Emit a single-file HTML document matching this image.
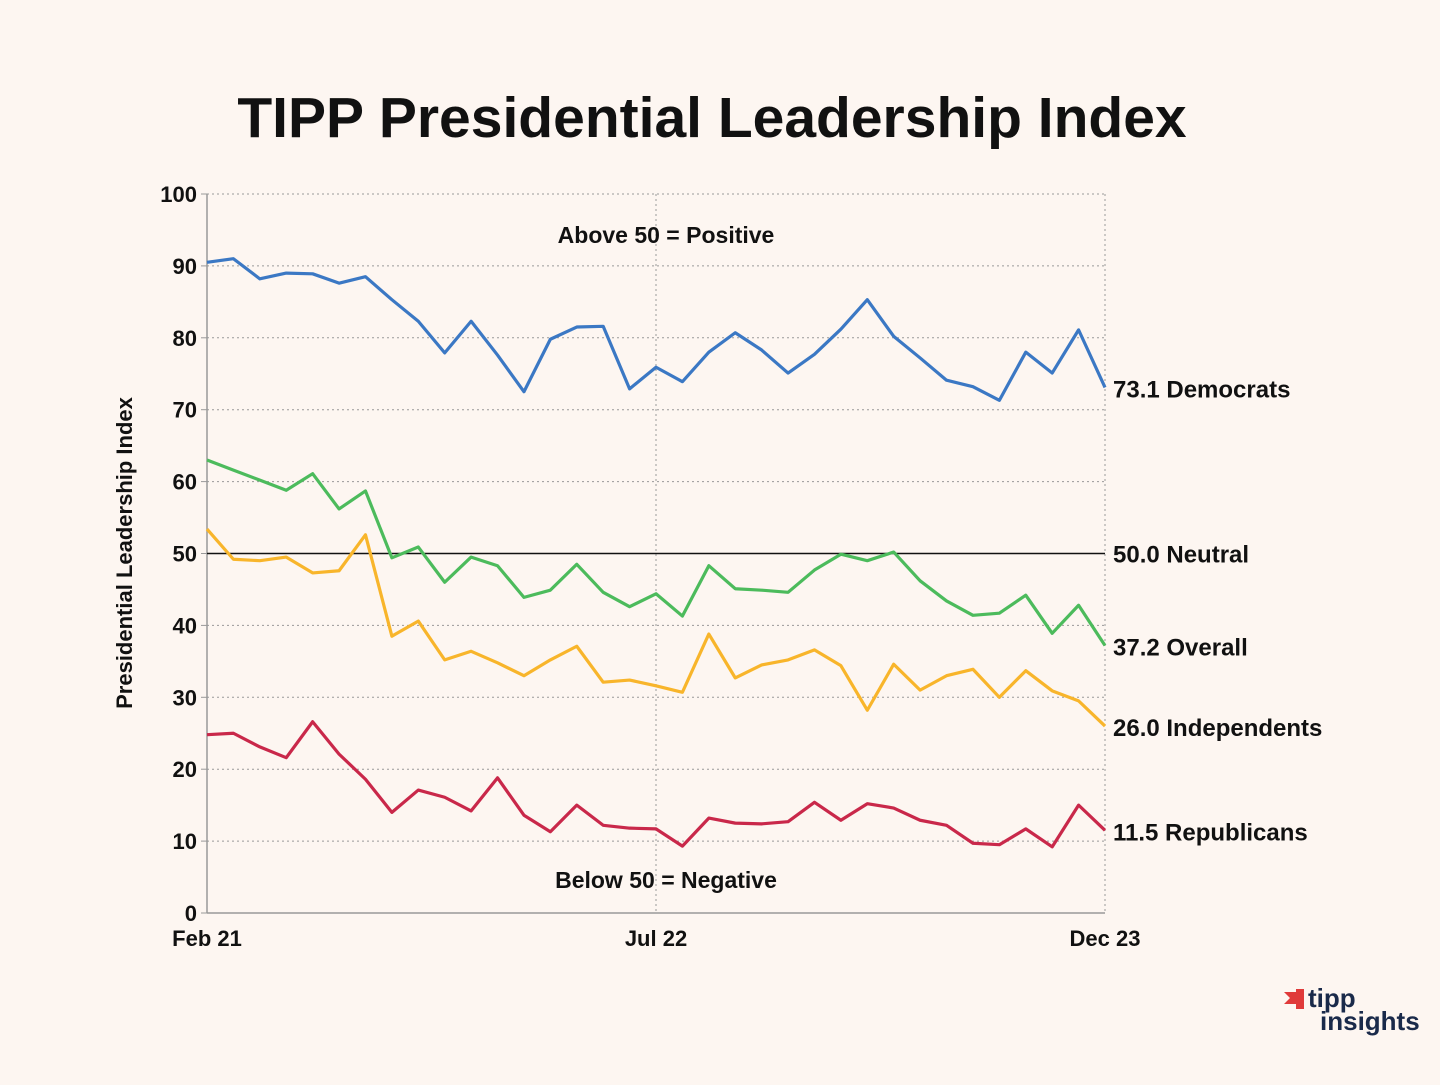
<!DOCTYPE html>
<html><head><meta charset="utf-8">
<style>
html,body{margin:0;padding:0;background:#fdf6f1;}
body{width:1440px;height:1080px;overflow:hidden;font-family:"Liberation Sans","DejaVu Sans",sans-serif;}
text{font-family:"Liberation Sans","DejaVu Sans",sans-serif;}
</style></head>
<body>
<svg id="chart" width="1440" height="1080">
<text x="712" y="137" text-anchor="middle" font-size="57" font-weight="bold" fill="#111">TIPP Presidential Leadership Index</text>
<g id="grid"></g>
<g id="axes"></g>
<g id="series"></g>
<g id="labels"></g>
<text x="666" y="243" text-anchor="middle" font-size="23" font-weight="bold" fill="#111">Above 50 = Positive</text>
<text x="666" y="888" text-anchor="middle" font-size="23" font-weight="bold" fill="#111">Below 50 = Negative</text>
<text transform="translate(132,553) rotate(-90)" text-anchor="middle" font-size="22" font-weight="bold" fill="#111">Presidential Leadership Index</text>
<g>
<polygon points="1284,992 1296,992 1300,998 1296,1004 1284,1004 1290,998" fill="#e03a3a"/>
<rect x="1296" y="989" width="8" height="20" fill="#e03a3a"/>
<text x="1308" y="1007" font-size="26" font-weight="bold" fill="#1a2a4a">tipp</text>
<text x="1320" y="1030" font-size="26" font-weight="bold" fill="#1a2a4a">insights</text>
</g>
</svg>
<script>
const xLabels = ["Feb 21","Jul 22","Dec 23"];
const xLabelIdx = [0,17,34];
const yTicks = [0,10,20,30,40,50,60,70,80,90,100];
const democrats = [90.5,91.0,88.2,89.0,88.9,87.6,88.5,85.3,82.3,77.9,82.3,77.6,72.5,79.8,81.5,81.6,72.9,75.9,73.9,78.0,80.7,78.3,75.1,77.7,81.2,85.3,80.2,77.2,74.1,73.2,71.3,78.0,75.1,81.1,73.1];
const overall = [63.0,61.6,60.2,58.8,61.1,56.2,58.7,49.4,50.9,46.0,49.5,48.3,43.9,44.9,48.5,44.6,42.6,44.4,41.3,48.3,45.1,44.9,44.6,47.7,49.9,49.0,50.2,46.2,43.4,41.4,41.7,44.2,38.9,42.8,37.2];
const independents = [53.4,49.2,49.0,49.5,47.3,47.6,52.6,38.5,40.6,35.2,36.4,34.8,33.0,35.2,37.1,32.1,32.4,31.6,30.7,38.8,32.7,34.5,35.2,36.6,34.4,28.2,34.6,31.0,33.0,33.9,30.0,33.7,30.9,29.5,26.0];
const republicans = [24.8,25.0,23.1,21.6,26.6,22.1,18.6,14.0,17.1,16.1,14.2,18.8,13.6,11.3,15.0,12.2,11.8,11.7,9.3,13.2,12.5,12.4,12.7,15.4,12.9,15.2,14.6,12.9,12.2,9.7,9.5,11.7,9.2,15.0,11.5];
const neutral = 50.0;

const NS="http://www.w3.org/2000/svg";
const X0=207,X1=1105,Y0=913,Y1=194,N=democrats.length;
const xs=i=>X0+(X1-X0)*i/(N-1);
const ys=v=>Y0-(Y0-Y1)*v/100;
function mk(tag,attrs,parent){const e=document.createElementNS(NS,tag);for(const k in attrs)e.setAttribute(k,attrs[k]);parent.appendChild(e);return e;}
const grid=document.getElementById('grid'),axes=document.getElementById('axes'),ser=document.getElementById('series'),lab=document.getElementById('labels');
yTicks.forEach(t=>{
  if(t>0&&t!==50){const l=mk('line',{x1:X0,x2:X1,y1:ys(t),y2:ys(t),stroke:'#999','stroke-dasharray':'2,3','stroke-width':1},grid);
  
  }
  const tk=mk('line',{x1:X0-6,x2:X0,y1:ys(t),y2:ys(t),stroke:'#999'},axes);
  
  
  const tx=mk('text',{x:X0-10,y:ys(t)+8,'text-anchor':'end','font-size':22,'font-weight':'bold',fill:'#111'},axes);
  tx.textContent=t;
  
  
});
xLabelIdx.forEach((idx,k)=>{
  if(idx>0){const l=mk('line',{x1:xs(idx),x2:xs(idx),y1:Y1,y2:Y0,stroke:'#999','stroke-dasharray':'2,3'},grid);
  
  }
  const tx=mk('text',{x:xs(idx),y:946,'text-anchor':'middle','font-size':22,'font-weight':'bold',fill:'#111'},axes);
  tx.textContent=xLabels[k];
  
  
});
const ya=mk('line',{x1:X0,x2:X0,y1:Y1,y2:Y0,stroke:'#999','stroke-width':1.5},axes);


const xa=mk('line',{x1:X0,x2:X1,y1:Y0,y2:Y0,stroke:'#999','stroke-width':1.5},axes);


const nl=mk('line',{x1:X0,x2:X1,y1:ys(neutral),y2:ys(neutral),stroke:'#111','stroke-width':1.5},ser);


const list=[[democrats,'#3b78c4','democrats-line','Democrats'],[overall,'#4cbb5c','overall-line','Overall'],[independents,'#f8b52b','independents-line','Independents'],[republicans,'#c9284a','republicans-line','Republicans']];
list.forEach(([d,c,n,lbl])=>{
  const p=mk('polyline',{points:d.map((v,i)=>xs(i)+','+ys(v)).join(' '),fill:'none',stroke:c,'stroke-width':3.2,'stroke-linejoin':'round'},ser);
  
  
  const v=d[d.length-1];
  const t=mk('text',{x:1113,y:ys(v)+10,'font-size':24,'font-weight':'bold',fill:'#111'},lab);
  t.textContent=v.toFixed(1)+' '+lbl;
  
  
});
const nt=mk('text',{x:1113,y:ys(neutral)+9,'font-size':24,'font-weight':'bold',fill:'#111'},lab);
nt.textContent=neutral.toFixed(1)+' Neutral';


</script>
</body></html>
